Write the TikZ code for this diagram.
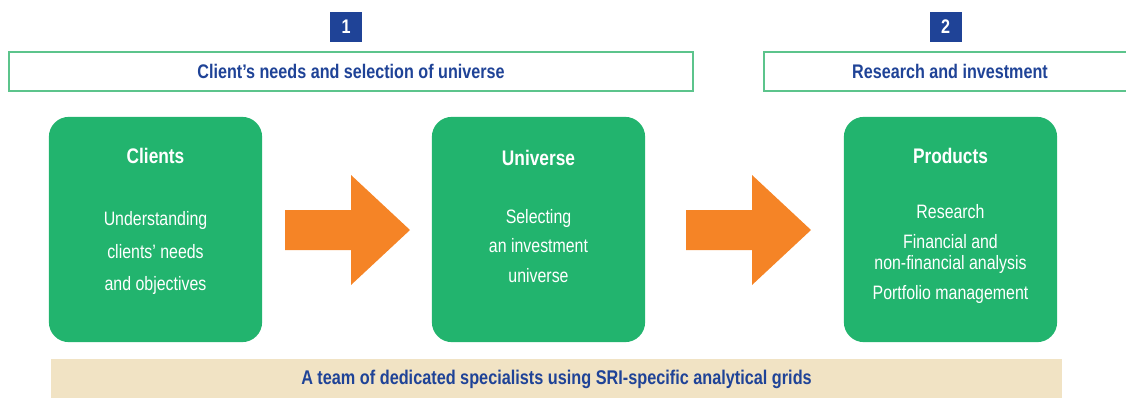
\documentclass[tikz,border=0pt]{standalone}
\usepackage{fontspec}
\setmainfont{Liberation Sans}[FakeStretch=0.82]
\usetikzlibrary{calc,positioning}
\definecolor{sriblue}{HTML}{1F4397}
\definecolor{srigreen}{HTML}{22B46E}
\definecolor{srimint}{HTML}{5CC48C}
\definecolor{sriorange}{HTML}{F58426}
\definecolor{sribeige}{HTML}{F1E3C4}

\begin{document}
\begin{tikzpicture}[x=0.025cm,y=-0.025cm,
  greenbox/.style={fill=srigreen,rounded corners=0.5cm,minimum width=5.33cm,minimum height=5.63cm,inner sep=0pt},
  headbox/.style={draw=srimint,line width=1.2pt,fill=white,minimum height=0.98cm,inner sep=0pt,text=sriblue,font=\bfseries\fontsize{14}{17}\selectfont},
  numbox/.style={fill=sriblue,minimum width=0.8cm,minimum height=0.75cm,inner sep=0pt,text=white,font=\bfseries\fontsize{14}{17}\selectfont},
  boxtitle/.style={text=white,inner sep=0pt,font=\bfseries\fontsize{15}{18}\selectfont},
  boxbody/.style={text=white,align=center,inner sep=0pt},
  blockarrow/.style={fill=sriorange}]
\useasboundingbox (0,0) rectangle (1126,397);
\clip (0,0) rectangle (1126,397);
% step numbers and headers
\node[numbox] (num1) at (346,27) {1};
\node[numbox] (num2) at (945.5,27) {2};
\node[headbox,minimum width=17.1cm] (head1) at (351,71.5) {Client’s needs and selection of universe};
\node[headbox,minimum width=9.3cm] (head2) at (950,71.5) {Research and investment};
% green boxes
\node[greenbox] (clients) at (155.5,229.5) {};
\node[greenbox] (universe) at (538.5,229.5) {};
\node[greenbox] (products) at (950.5,229.5) {};
\node[boxtitle] (clientsT) at (155.5,156) {Clients};
\node[boxtitle] (universeT) at (538.5,158) {Universe};
\node[boxtitle] (productsT) at (950.5,156) {Products};
\node[boxbody,font=\fontsize{13.8}{22.8}\selectfont] (clientsB) at (155.5,253) {Understanding\\clients’ needs\\and objectives};
\node[boxbody,font=\fontsize{13.8}{21}\selectfont] (universeB) at (538.5,246) {Selecting\\an investment\\universe};
\node[boxbody,font=\fontsize{13.8}{15}\selectfont] (productsB) at (950.5,254) {Research\\[6pt]Financial and\\non-financial analysis\\[6pt]Portfolio management};
% orange arrows
\foreach \ax in {285,686}
  \fill[blockarrow] (\ax,210) -- (\ax+66,210) -- (\ax+66,175) -- (\ax+125,230)
    -- (\ax+66,285) -- (\ax+66,250) -- (\ax,250) -- cycle;
% bottom band
\node[fill=sribeige,minimum width=25.28cm,minimum height=1cm,inner sep=0pt,text=sriblue,
  font=\bfseries\fontsize{14.1}{17}\selectfont] (team) at (556.5,379)
  {A team of dedicated specialists using SRI-specific analytical grids};
\end{tikzpicture}
\end{document}
